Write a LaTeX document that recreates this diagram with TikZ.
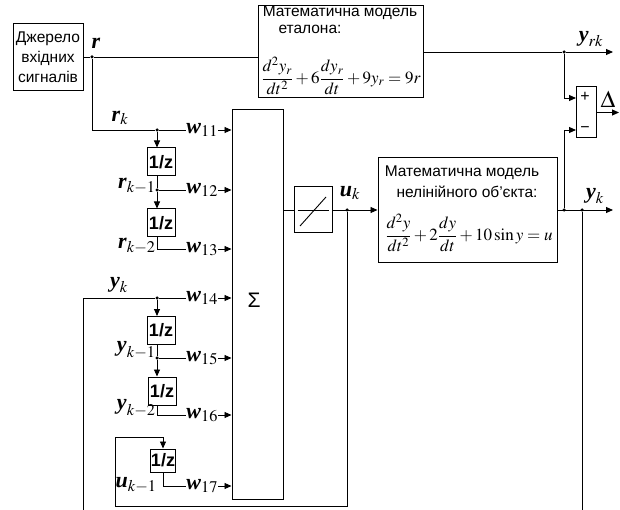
\documentclass[tikz,border=0pt]{standalone}
\usepackage{mathptmx}
\usepackage{amsmath}
\usepackage[no-math]{fontspec}
\setmainfont{Liberation Sans}
\newfontfamily\tnr{Liberation Serif}
\newcommand\vb[1]{\text{\tnr\bfseries\itshape #1}}
\usetikzlibrary{arrows.meta}
\begin{document}
\begin{tikzpicture}[x=1pt,y=-1pt,
  line width=0.9pt,
  box/.style={draw, line width=1pt, inner sep=0pt},
  txt/.style={font=\fontsize{15.5}{17}\selectfont, inner sep=0pt},
  eqs/.style={font=\fontsize{17}{20}\selectfont, inner sep=0pt},
  lab/.style={font=\fontsize{22}{24}\selectfont, inner sep=0pt},
  wl/.style={lab, anchor=west},
  delay/.style={box, minimum width=28pt, minimum height=28pt, font=\bfseries\fontsize{18}{18}\selectfont},
  arr/.style={-{Triangle[length=7pt,width=6pt]}},
  dot/.style={circle, fill, inner sep=0pt, minimum size=3.5pt}
]
\useasboundingbox (0,0) rectangle (620,510);

% source
\node[box, minimum width=70pt, minimum height=67pt, align=center, font=\fontsize{15.5}{20}\selectfont] (src) at (48,57) {Джерело\\вхідних\\сигналів};

% reference model
\node[box, minimum width=165pt, minimum height=92pt] (et) at (340.5,52) {};
\node[txt] (et1) at (340,13) {Математична модель};
\node[txt] (et2) at (310,29) {еталона:};
\node[eqs] (eteq) at (341,76) {$\dfrac{d^2y_r}{dt^2}+6\dfrac{dy_r}{dt}+9y_r=9r$};

% plant
\node[box, minimum width=179pt, minimum height=105pt] (pl) at (467.5,210) {};
\node[txt] (pl1) at (462,173) {Математична модель};
\node[txt] (pl2) at (467,192) {нелінійного об'єкта:};
\node[eqs] (pleq) at (469,233) {$\dfrac{d^2y}{dt^2}+2\dfrac{dy}{dt}+10\sin y=u$};

% saturation
\node[box, minimum width=38pt, minimum height=46pt] (sat) at (313,210) {};
\draw ([xshift=4pt]sat.west) -- ([xshift=-4pt]sat.east);
\draw ([shift={(-13,16)}]sat.center) -- ([shift={(13,-13)}]sat.center);

% sum
\node[box, minimum width=51pt, minimum height=389pt] (sum) at (257.5,304.5) {};
\node[font=\fontsize{21}{21}\selectfont] (sig) at (254,300) {Σ};

% difference
\node[box, minimum width=20pt, minimum height=51pt] (dif) at (586,112.5) {};
\node[font=\fontsize{16}{16}\selectfont, inner sep=0pt] (plus) at (585,97) {+};
\node[font=\fontsize{16}{16}\selectfont, inner sep=0pt] (minus) at (585,130) {−};
\node[font=\fontsize{24}{24}\selectfont, inner sep=0pt] (dl) at (608,99) {$\Delta$};

% delays
\node[delay] (D1) at (161,162) {1/z};
\node[delay] (D2) at (161,223) {1/z};
\node[delay] (D3) at (161,330.5) {1/z};
\node[delay] (D4) at (162,391) {1/z};
\node[delay, minimum width=25pt, minimum height=23pt] (D5) at (163,460.5) {1/z};

% w labels
\node[wl] (w11) at (186,130) {$\vb{w}_{11}$};
\node[wl] (w12) at (186,190) {$\vb{w}_{12}$};
\node[wl] (w13) at (186,249) {$\vb{w}_{13}$};
\node[wl] (w14) at (186,298) {$\vb{w}_{14}$};
\node[wl] (w15) at (186,358) {$\vb{w}_{15}$};
\node[wl] (w16) at (186,415) {$\vb{w}_{16}$};
\node[wl] (w17) at (186,486) {$\vb{w}_{17}$};

% signal labels
\node[lab] (lr) at (96,43) {$\vb{r}$};
\node[lab] (lrk) at (120,118) {$\vb{r}_k$};
\node[lab, anchor=east] (lrk1) at (156,186) {$\vb{r}_{k-1}$};
\node[lab, anchor=east] (lrk2) at (156,246) {$\vb{r}_{k-2}$};
\node[lab] (lyk) at (119,285) {$\vb{y}_k$};
\node[lab, anchor=east] (lyk1) at (156,350) {$\vb{y}_{k-1}$};
\node[lab, anchor=east] (lyk2) at (156,408) {$\vb{y}_{k-2}$};
\node[lab, anchor=east] (luk1) at (157,485) {$\vb{u}_{k-1}$};
\node[lab] (luk) at (350,193) {$\vb{u}_k$};
\node[lab] (lyrk) at (591,39) {$\vb{y}_{rk}$};
\node[lab] (lyout) at (595,196) {$\vb{y}_k$};

% junctions and free ends
\node[dot] (jr) at (92,57) {};
\node[dot] (jrk) at (157,130) {};
\node[dot] (jrk1) at (157,190) {};
\node[dot] (jyk) at (157,298) {};
\node[dot] (jyk1) at (157,358) {};
\node[dot] (ju) at (347,210) {};
\node[dot] (jyr) at (564,52) {};
\node[dot] (jy1) at (564,210) {};
\node[dot] (jy2) at (582,210) {};
\coordinate (oyr) at (613,52);
\coordinate (oy) at (613,210);
\coordinate (odl) at (619,112.5);
\coordinate (dplus) at (576,98);
\coordinate (dminus) at (576,130);
\coordinate (ybot) at (83,515);
\coordinate (yout) at (582,515);
\coordinate (ul1) at (115,506);
\coordinate (ul2) at (115,437);

% top path
\draw (src.east) -- (jr) -- (jr -| et.west);
\draw (et.east) -- (jyr);
\draw[arr] (jyr) -- (oyr);
\draw[arr] (jyr) |- (dplus);
\draw[arr] (jy1) |- (dminus);
\draw[arr] (dif.east) -- (odl);

% plant path
\draw (sum.east |- sat.west) -- (sat.west);
\draw[arr] (sat.east) -- (pl.west);
\draw[arr] (pl.east) -- (oy);
\draw (jy2) -- (yout);

% r chain
\draw (jr) |- (jrk) -- (w11.west);
\draw[arr] (jrk) -- (jrk |- D1.north);
\draw (jrk |- D1.south) -- (jrk1);
\draw[arr] (jrk1) -- (jrk |- D2.north);
\draw (jrk1) -- (w12.west);
\draw (jrk |- D2.south) |- (w13.west);

% y chain
\draw (ybot) |- (jyk) -- (w14.west);
\draw[arr] (jyk) -- (jyk |- D3.north);
\draw (jyk |- D3.south) -- (jyk1);
\draw[arr] (jyk1) -- (jyk |- D4.north);
\draw (jyk1) -- (w15.west);
\draw (jyk |- D4.south) |- (w16.west);

% u chain
\draw (ju) |- (ul1) -- (ul2);
\draw[arr] (ul2) -| (D5.north);
\draw (D5.south) |- (w17.west);

% inputs to sum
\foreach \w in {w11,w12,w13,w14,w15,w16,w17}
  \draw[arr] (\w.east) -- (\w.east -| sum.west);
\end{tikzpicture}
\end{document}
